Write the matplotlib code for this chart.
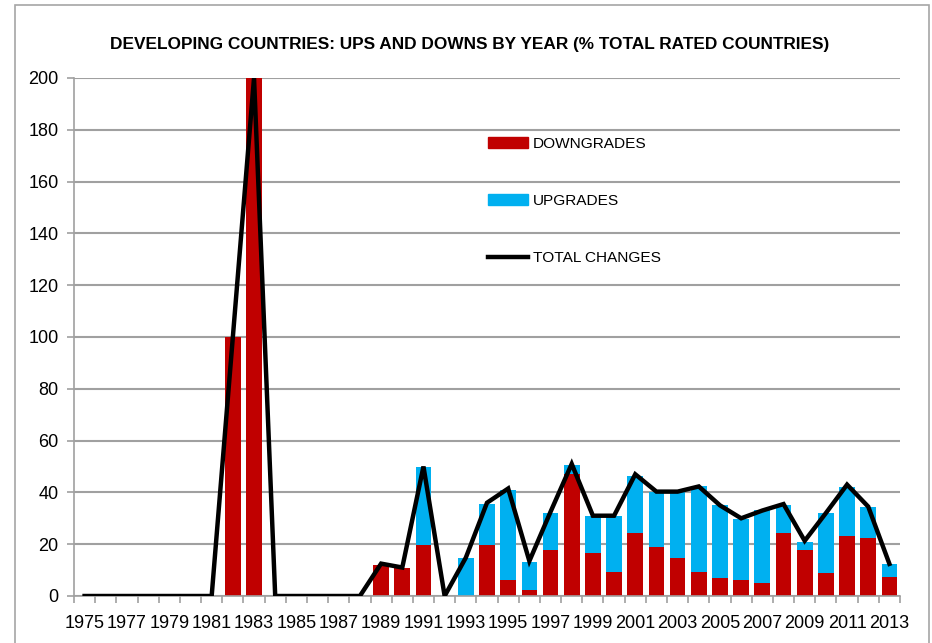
import matplotlib
matplotlib.use("Agg")
import matplotlib.pyplot as plt
from matplotlib.patches import Rectangle
from matplotlib.lines import Line2D
from matplotlib.ticker import FixedLocator, NullFormatter, FixedFormatter

plt.rcParams['font.family'] = ['Liberation Sans', 'DejaVu Sans']

years = list(range(1975, 2014))
downgrades = [0, 0, 0, 0, 0, 0, 0, 100, 200, 0, 0, 0, 0, 0,
              12, 10.7, 19.5, 0, 0, 19.5, 6.3, 2.3, 17.8, 47.1, 16.5, 9.4,
              24.3, 19, 14.8, 9.4, 7.1, 6.3, 5.2, 24.3, 17.8, 8.8, 23, 22.5, 7.5]
upgrades = [0, 0, 0, 0, 0, 0, 0, 0, 0, 0, 0, 0, 0, 0,
            0, 0, 30.4, 0, 14.8, 16.1, 34.7, 10.7, 14.3, 3.6, 14.5, 21.6,
            22.2, 21, 25.2, 32.9, 28, 23.4, 28, 10.8, 3, 23.3, 19.2, 12, 4.9]
total_changes = [0, 0, 0, 0, 0, 0, 0, 100, 200, 0, 0, 0, 0, 0,
                 12.5, 11, 50, 0, 14.8, 36, 41.5, 13.5, 32.5, 51, 31, 31,
                 47, 40.3, 40.3, 42.3, 35, 30, 33, 35.5, 21.3, 32, 43, 34.5, 12.4]
yticks = [0, 20, 40, 60, 80, 100, 120, 140, 160, 180, 200]
title = "DEVELOPING COUNTRIES: UPS AND DOWNS BY YEAR (% TOTAL RATED COUNTRIES)"

RED = "#C00000"
BLUE = "#00B0F0"
GRID = "#A0A0A0"

fig = plt.figure(figsize=(9.32, 6.43), dpi=100)
fig.patches.append(Rectangle((15/932, -0.01), (929-15)/932, 1 - 5/643 + 0.01,
                             transform=fig.transFigure, fill=False,
                             edgecolor="#A6A6A6", linewidth=1.2))

ax = fig.add_axes([74/932, 1 - 596/643, (900-74)/932, (596-78)/643])
x = list(range(len(years)))
ax.bar(x, downgrades, width=0.74, color=RED, zorder=2, label="DOWNGRADES")
ax.bar(x, upgrades, width=0.74, bottom=downgrades, color=BLUE, zorder=2, label="UPGRADES")
ax.plot(x, total_changes, color="black", linewidth=3.2, zorder=3,
        solid_joinstyle="miter", label="TOTAL CHANGES")

ax.set_xlim(-0.5, len(years) - 0.5)
ax.set_ylim(0, 200)
ax.set_yticks(yticks)
ax.yaxis.grid(True, color=GRID, linewidth=1.5, zorder=0)
ax.set_axisbelow(True)

# x ticks: marks at category boundaries, labels every other year
ax.xaxis.set_major_locator(FixedLocator([i - 0.5 for i in range(len(years) + 1)]))
ax.xaxis.set_major_formatter(NullFormatter())
lab_pos = [i for i in x if i % 2 == 0]
ax.xaxis.set_minor_locator(FixedLocator(lab_pos))
ax.xaxis.set_minor_formatter(FixedFormatter([str(years[i]) for i in lab_pos]))
ax.tick_params(axis='x', which='major', length=5, color=GRID, width=1.2, direction='out')
ax.tick_params(axis='x', which='minor', length=0, labelsize=13, pad=14)
ax.tick_params(axis='y', length=5, color=GRID, width=1.2, labelsize=13, pad=6)

for s in ['top', 'right']:
    ax.spines[s].set_visible(False)
for s in ['left', 'bottom']:
    ax.spines[s].set_color(GRID)
    ax.spines[s].set_linewidth(1.2)

fig.text(470/932, 1 - 44/643, title, ha='center', va='center',
         fontsize=12.4, fontweight='bold')

handles = [Rectangle((0, 0), 1, 1, color=RED),
           Rectangle((0, 0), 1, 1, color=BLUE),
           Line2D([0], [0], color='black', linewidth=3.2)]
labels = ["DOWNGRADES", "UPGRADES", "TOTAL CHANGES"]
fig.legend(handles, labels, loc='upper left',
           bbox_to_anchor=(488/932, 1 - 137/643), frameon=False,
           fontsize=11.1, borderpad=0, borderaxespad=0,
           handlelength=2.6, handleheight=0.7, handletextpad=0.3,
           labelspacing=2.8)

fig.savefig("out.png", dpi=100)
